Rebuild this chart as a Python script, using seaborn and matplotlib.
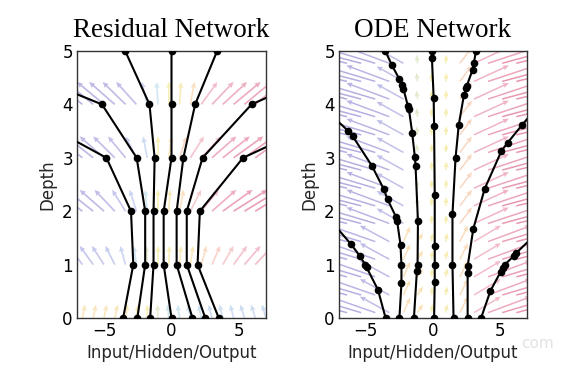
import numpy as np
import pandas as pd
import matplotlib
matplotlib.use("Agg")
import matplotlib.pyplot as plt
import seaborn as sns
from matplotlib.colors import LinearSegmentedColormap, TwoSlopeNorm

# ---------------- data ----------------
# Residual network: hidden value of each trajectory at depths 0..5
res_depths = [0, 1, 2, 3, 4, 5]
res_r1 = [-3.58, -2.83, -3.00, -4.82, -12.1, -20.0]
res_r2 = [-2.53, -1.95, -1.95, -2.58, -5.15, -14.9]
res_r3 = [-1.58, -1.33, -1.33, -1.25, -1.63, -3.43]
res_r4 = [0.00, -0.58, -0.58, 0.00, 0.00, 0.00]
res_r5 = [1.55, 0.38, 0.38, 0.88, 1.75, 3.38]
res_r6 = [2.50, 1.13, 1.13, 2.30, 5.93, 14.8]
res_r7 = [3.50, 1.93, 2.10, 5.30, 13.8, 22.0]

# ODE network: (x, depth) evaluation points along each trajectory
ode_a_x = [-3.53, -4.10, -4.95, -5.05, -5.47, -6.10, -7.70]
ode_a_t = [0.00, 0.53, 0.95, 1.00, 1.17, 1.38, 1.85]
ode_b_x = [-2.50, -2.35, -2.35, -2.42, -2.67, -2.75, -3.38, -3.68, -4.55, -5.97, -6.30, -7.80]
ode_b_t = [0.00, 0.65, 1.00, 1.37, 1.81, 1.89, 2.22, 2.42, 2.85, 3.40, 3.50, 3.85]
ode_c_x = [-1.42, -1.20, -1.15, -1.12, -1.30, -1.35, -1.55, -1.80, -1.87, -2.20, -2.30, -2.50, -3.05, -3.55]
ode_c_t = [0.00, 0.88, 1.00, 1.81, 2.85, 3.01, 3.47, 3.92, 3.97, 4.29, 4.36, 4.47, 4.73, 5.00]
ode_d_x = [0.08, 0.13, 0.13, 0.13, 0.13, 0.08, 0.05, -0.08, -0.10]
ode_d_t = [0.00, 0.68, 1.00, 1.35, 2.30, 3.60, 4.12, 4.87, 5.00]
ode_e_x = [1.53, 1.45, 1.45, 1.68, 1.92, 2.30, 2.45, 2.52, 2.95, 3.05, 3.20]
ode_e_t = [0.00, 1.00, 1.94, 3.00, 3.62, 4.17, 4.30, 4.35, 4.65, 4.78, 5.00]
ode_f_x = [2.58, 2.58, 2.58, 3.00, 3.85, 5.10, 5.55, 6.65, 7.60]
ode_f_t = [0.00, 0.84, 0.97, 1.67, 2.42, 3.13, 3.28, 3.62, 3.90]
ode_g_x = [3.58, 4.28, 5.05, 5.20, 5.35, 6.05, 6.20, 7.80]
ode_g_t = [0.00, 0.51, 0.87, 0.93, 1.00, 1.17, 1.22, 1.60]

# Residual vector field: arrows at each layer (depth 0..4)
res_field_x = [-6.6, -5.8, -5.0, -4.2, -3.4, -2.6, -1.8, -1.0, -0.2,
               0.6, 1.4, 2.2, 3.0, 3.8, 4.6, 5.4, 6.2, 7.0]
res_field_depths = [0, 1, 2, 3, 4]
res_u_d0 = [0.2, 0.2, 0.2, 0.2, 0.15, 0.1, 0.0, -0.05, -0.1, -0.15, -0.2, -0.2, -0.25, -0.25, -0.25, -0.3, -0.3, -0.3]
res_u_d1 = [-1.0, -1.0, -0.9, -0.7, -0.4, -0.2, -0.05, 0.0, 0.05, 0.1, 0.2, 0.4, 0.6, 0.8, 1.0, 1.2, 1.3, 1.3]
res_u_d2 = [-2.2, -2.0, -1.8, -1.5, -1.0, -0.5, -0.15, 0.0, 0.1, 0.3, 0.8, 1.3, 1.8, 2.2, 2.5, 2.6, 2.6, 2.6]
res_u_d3 = [-2.0, -2.0, -1.8, -1.6, -1.3, -0.8, -0.3, 0.0, 0.2, 0.5, 1.0, 1.5, 1.8, 2.0, 2.2, 2.2, 2.2, 2.2]
res_u_d4 = [-2.0, -2.0, -2.0, -1.9, -1.7, -1.5, -0.4, -0.1, 0.0, 0.1, 0.3, 1.2, 1.6, 1.8, 2.0, 2.0, 2.0, 2.0]
res_v = [0.25, 0.35, 0.4, 0.4, 0.42]

# ODE vector field: dense grid of arrows
ode_field_x = [-6.4, -5.35, -4.3, -3.25, -2.2, -1.15, -0.1, 0.95, 2.0, 3.05, 4.1, 5.15, 6.2]
ode_field_t_low = [0.1, 0.43, 0.77, 1.1, 1.43]
ode_field_t_high = [1.77, 2.1, 2.43, 2.77, 3.1, 3.43, 3.77, 4.1, 4.43, 4.77]
ode_u_low = [-4.5, -4.0, -3.4, -2.2, 0.5, 0.4, 0.05, 0.1, 0.6, 2.0, 3.2, 4.0, 4.6]
ode_u_high = [-5.0, -4.6, -4.0, -3.2, -2.0, -0.08, 0.0, 0.05, 0.9, 2.6, 3.6, 4.4, 5.0]
ode_v = [0.3, 0.3, 0.3, 0.3, 0.28, 0.16, 0.16, 0.16, 0.3, 0.3, 0.3, 0.3, 0.3]

# ---------------- style ----------------
sns.set_theme(style="white")
plt.rcParams["font.family"] = ["DejaVu Sans"]
plt.rcParams["axes.edgecolor"] = "#333333"
plt.rcParams["axes.linewidth"] = 1.0

field_cmap = LinearSegmentedColormap.from_list(
    "field", [(0.0, "#6a58c0"), (0.25, "#7f78d0"), (0.42, "#8fa6e4"), (0.48, "#9ccfe0"),
              (0.5, "#eee060"), (0.56, "#f4c07a"), (0.7, "#e88098"), (1.0, "#d03060")])

fig = plt.figure(figsize=(5.62, 3.69), dpi=100)
ax1 = fig.add_axes([77 / 562, 51 / 369, 189 / 562, 267 / 369])
ax2 = fig.add_axes([339 / 562, 51 / 369, 188 / 562, 267 / 369])

# ---------------- residual panel ----------------
res_us = [res_u_d0, res_u_d1, res_u_d2, res_u_d3, res_u_d4]
qx, qy, qu, qv = [], [], [], []
for d, urow, vv in zip(res_field_depths, res_us, res_v):
    for xx, uu in zip(res_field_x, urow):
        qx.append(xx); qy.append(d); qu.append(uu); qv.append(vv)
qu = np.array(qu)
ax1.quiver(qx, qy, qu, qv, qu, cmap=field_cmap,
           norm=TwoSlopeNorm(vcenter=0, vmin=-2.4, vmax=2.4),
           angles="xy", scale_units="xy", scale=1, width=0.009,
           headwidth=3.2, headlength=3.5, headaxislength=3.2, alpha=0.45, zorder=1)

res_list = [res_r1, res_r2, res_r3, res_r4, res_r5, res_r6, res_r7]
rows = []
for i, tr in enumerate(res_list):
    for d, xx in zip(res_depths, tr):
        rows.append({"traj": i, "x": xx, "depth": d})
res_df = pd.DataFrame(rows)
sns.lineplot(data=res_df, x="x", y="depth", units="traj", estimator=None, sort=False,
             color="black", lw=1.5, marker="o", markersize=5.5, markeredgewidth=0,
             ax=ax1, zorder=3, legend=False)

# ---------------- ODE panel ----------------
qx, qy, qu, qv = [], [], [], []
for tband, uband in [(ode_field_t_low, ode_u_low), (ode_field_t_high, ode_u_high)]:
    for t in tband:
        for xx, uu, vv in zip(ode_field_x, uband, ode_v):
            qx.append(xx); qy.append(t); qu.append(uu); qv.append(vv)
qu = np.array(qu)
ax2.quiver(qx, qy, qu, qv, qu, cmap=field_cmap,
           norm=TwoSlopeNorm(vcenter=0, vmin=-4.5, vmax=4.5),
           angles="xy", scale_units="xy", scale=1, width=0.008,
           headwidth=3.5, headlength=4, headaxislength=3.5, alpha=0.5, zorder=1)

ode_list = [(ode_a_x, ode_a_t), (ode_b_x, ode_b_t), (ode_c_x, ode_c_t), (ode_d_x, ode_d_t),
            (ode_e_x, ode_e_t), (ode_f_x, ode_f_t), (ode_g_x, ode_g_t)]
rows = []
for i, (xs, ts) in enumerate(ode_list):
    for xx, t in zip(xs, ts):
        rows.append({"traj": i, "x": xx, "depth": t})
ode_df = pd.DataFrame(rows)
sns.lineplot(data=ode_df, x="x", y="depth", units="traj", estimator=None, sort=False,
             color="black", lw=1.5, marker="o", markersize=5.5, markeredgewidth=0,
             ax=ax2, zorder=3, legend=False)

# ---------------- axes decoration ----------------
for ax, title in [(ax1, "Residual Network"), (ax2, "ODE Network")]:
    ax.set_xlim(-7, 7)
    ax.set_ylim(0, 5)
    ax.set_xticks([-5, 0, 5])
    ax.set_yticks([0, 1, 2, 3, 4, 5])
    ax.tick_params(length=0, labelsize=12, pad=3, colors="black")
    ax.set_xlabel("Input/Hidden/Output", fontsize=12, labelpad=3)
    ax.set_ylabel("Depth", fontsize=12, labelpad=4)
    ax.set_title(title, fontsize=19.5, family=["Liberation Serif", "DejaVu Serif"],
                 color="black", pad=10)
    for sp in ax.spines.values():
        sp.set_visible(True)
        sp.set_color("#333333")
        sp.set_linewidth(1.0)

fig.text(0.985, 0.058, "com", color="#e2e2e2", fontsize=11, ha="right")

fig.savefig("out.png", dpi=100)
